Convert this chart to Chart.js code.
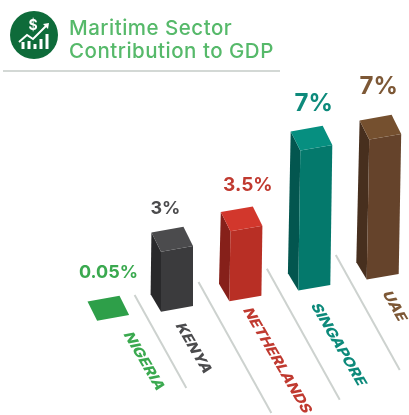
<!DOCTYPE html>
<html lang="en">
<head>
    <meta charset="UTF-8">
    <title>Maritime Sector Contribution to GDP</title>
    <script src="https://cdn.jsdelivr.net/npm/chart.js"></script>
    <style>
        html,body{margin:0;padding:0;background:#fff;}
        #wrap{position:relative;width:409px;height:415px;overflow:hidden;font-family:Inter,sans-serif;}
        #icon{position:absolute;left:10px;top:11px;}
        .title{position:absolute;left:69px;color:#56b96a;font-size:20.5px;font-weight:500;white-space:nowrap;line-height:24px;letter-spacing:0.5px;}
        #rule{position:absolute;left:3px;top:70px;width:277px;height:2px;background:#d3d8d5;}
        canvas{position:absolute;left:0;top:0;}
    </style>
</head>
<body>
    <div id="wrap">
        <canvas id="myChart" width="409" height="415"></canvas>
        <svg id="icon" width="48" height="48" viewBox="0 0 48 48">
            <circle cx="24" cy="24" r="24" fill="#0e6b3a"/>
            <text x="23" y="19" font-family="Inter" font-size="14" font-weight="700" fill="#fff" text-anchor="middle">$</text>
            <path d="M9 31 L17 24 L23 28 L37 14" fill="none" stroke="#fff" stroke-width="2"/>
            <path d="M33 13 L39 12 L38 18 Z" fill="#fff"/>
            <path d="M13 38V31M19 38V30M25 38V33M31 38V28M37 38V23" stroke="#fff" stroke-width="3"/>
        </svg>
        <div class="title" style="top:16px">Maritime Sector</div>
        <div class="title" style="top:39px">Contribution to GDP</div>
        <div id="rule"></div>
    </div>

    <script>
        const countries = ['NIGERIA','KENYA','NETHERLANDS','SINGAPORE','UAE'];
        const shares = [0.05,3,3.5,7,7];

        // colours of each box: front, top, left side, text
        const frontColors = ['#2e9f49','#3b3b3d','#b82f25','#04796c','#65432b'];
        const topColors = ['#2e9f49','#4b4b4d','#d2372c','#068f80','#75502f'];
        const sideColors = ['#2e9f49','#29292b','#86201a','#03564f','#472f1e'];
        const textColors = ['#3aa94f','#4b4b4d','#c03a30','#0d8a7b','#7d5836'];

        // value label: font size and shift from the box's back edge
        const valueSizes = [18,18,19,24,24];
        const valueShift = [[5,-26],[-2,-21],[11,-24],[7,-25],[3,-31]];
        // country label: start point relative to the box base, and grey guide length
        const nameShift = [[10,15],[-2,16],[-3,11],[-4,17],[-1,16]];
        const guideDrop = [93,131,131,115,0];
        // sideways correction per box on top of the ground curve
        const rowNudge = [-1.5,-2,0,0.5,-1.5];

        const FACE_SLOPE = 0.175;   // tilt of the front face
        const ROW_SLOPE = 0.156;    // how much each box sits higher going right

        // ground plane: scale pixel -> screen pixel
        const project = (chart,x,y)=>{
            const area = chart.chartArea;
            const step = (area.right-area.left)/(countries.length-1);
            const mid = (area.left+area.right)/2;
            const u = (x-mid)/step;
            const sx = x + u*u - 2;
            const sy = y + (319.2 - ROW_SLOPE*(sx-112.5)) - area.bottom;
            return [sx,sy];
        }

        const poly = (ctx,pts,color)=>{
            ctx.beginPath();
            pts.forEach((p,i)=>{ i ? ctx.lineTo(p[0],p[1]) : ctx.moveTo(p[0],p[1]); });
            ctx.closePath();
            ctx.fillStyle = color;
            ctx.fill();
        }

        const box3d = {
            id:'box3d',
            beforeDatasetsDraw(chart){
                const ctx = chart.ctx;
                const bars = chart.getDatasetMeta(0).data;
                ctx.save();
                bars.forEach((bar,i)=>{
                    const h = bar.base-bar.y;
                    const [px,by] = project(chart,bar.x,bar.base);
                    const cx = px+rowNudge[i];
                    const w = bar.width/2;
                    const tilt = w*FACE_SLOPE;
                    // taller boxes further right lean a little at the top
                    const lean = Math.max(0,Math.min(2.5,(cx-175)/70));

                    // front face corners
                    const fl = [cx-w,by+tilt], fr = [cx+w,by-tilt];
                    const tl = [cx-w+lean,by+tilt-h], tr = [cx+w+lean,by-tilt-h];
                    const back = (p)=>[p[0]-9.6,p[1]-19.2];

                    // grey guide on the ground
                    if(guideDrop[i]){
                        const drop = guideDrop[i];
                        const sx = fr[0]+5.5, sy = fr[1]-(i*3+21);
                        ctx.beginPath();
                        ctx.moveTo(sx,sy);
                        ctx.lineTo(sx+drop*0.556,sy+drop);
                        ctx.strokeStyle = '#cdd2cf';
                        ctx.lineWidth = 2;
                        ctx.stroke();
                    }

                    // a near-zero share is only the flat top face
                    if(h>5){
                        poly(ctx,[tl,back(tl),[fl[0]-10.4,fl[1]-17.4],fl],sideColors[i]);
                        poly(ctx,[tl,tr,fr,fl],frontColors[i]);
                    }
                    poly(ctx,[tl,tr,back(tr),back(tl)],topColors[i]);

                    // value above the box
                    const bk = back([cx+lean,by-h]);
                    ctx.fillStyle = textColors[i];
                    ctx.font = '700 '+valueSizes[i]+'px Inter';
                    ctx.textAlign = 'center';
                    ctx.textBaseline = 'middle';
                    ctx.fillText(shares[i]+'%',bk[0]+valueShift[i][0],bk[1]+valueShift[i][1]);

                    // country name lying on the ground
                    ctx.save();
                    const nx = cx+nameShift[i][0], ny = by+nameShift[i][1];
                    ctx.transform(0.62,1.06,-1.1,0.22,nx,ny);
                    ctx.font = '800 13px Inter';
                    ctx.textAlign = 'left';
                    ctx.textBaseline = 'alphabetic';
                    ctx.fillText(countries[i],0,0);
                    ctx.restore();
                });
                ctx.restore();
                return false;
            }
        };

        new Chart(document.querySelector('#myChart').getContext('2d'),{
            type:'bar',
            data:{
                labels:countries,
                datasets:[{
                    label:'Share of GDP',
                    data:shares,
                    backgroundColor:frontColors,
                    barThickness:32
                }]
            },
            options:{
                responsive:false,
                animation:false,
                layout:{padding:{left:112.6,right:26.8,top:100,bottom:115}},
                plugins:{legend:{display:false},tooltip:{enabled:false}},
                scales:{
                    x:{display:false,offset:false},
                    y:{display:false,min:0,max:10}
                }
            },
            plugins:[box3d]
        });
    </script>
</body>
</html>
